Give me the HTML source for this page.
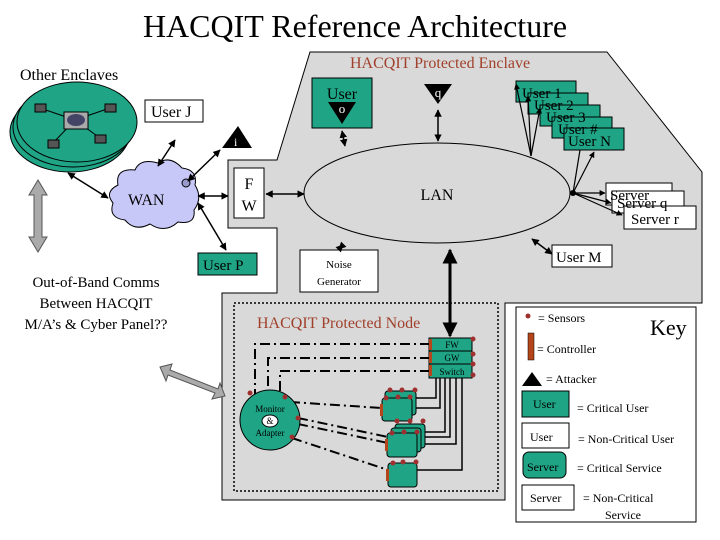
<!DOCTYPE html>
<html><head><meta charset="utf-8"><style>
body{margin:0;background:#fff}
svg{display:block}
text{font-family:"Liberation Serif",serif}
</style></head><body>
<svg width="720" height="540" viewBox="0 0 720 540" xmlns="http://www.w3.org/2000/svg">
<defs>
<marker id="a" viewBox="0 0 10 10" refX="9" refY="5" markerWidth="5" markerHeight="5" orient="auto-start-reverse"><path d="M0,0L10,5L0,10z" fill="#000"/></marker>
</defs>
<text x="355" y="37" font-size="32" text-anchor="middle">HACQIT Reference Architecture</text>
<!-- enclave -->
<path d="M310,52 L607,52 L702,172 L702,303 L505,303 L505,500 L222,500 L222,293 L277,293 L277,228 L228,228 L228,160 L277,160 Z" fill="#d9d9d9" stroke="#000" stroke-width="1"/>
<text x="350" y="68" font-size="16" fill="#a0402a">HACQIT Protected Enclave</text>
<text x="20" y="80" font-size="16">Other Enclaves</text>
<!-- enclave disks -->
<ellipse cx="70" cy="132" rx="60" ry="40" fill="#1fa585" stroke="#000"/>
<ellipse cx="73" cy="127" rx="60" ry="40" fill="#1fa585" stroke="#000"/>
<ellipse cx="77" cy="122" rx="60" ry="40" fill="#1fa585" stroke="#000"/>
<g stroke="#000" stroke-width="1"><line x1="75" y1="120" x2="40" y2="108"/><line x1="75" y1="120" x2="110" y2="108"/><line x1="75" y1="120" x2="53" y2="143"/><line x1="75" y1="120" x2="100" y2="138"/></g>
<rect x="64" y="112" width="24" height="17" fill="#aaa" stroke="#000"/><ellipse cx="76" cy="120" rx="9" ry="6" fill="#446"/>
<g fill="#555" stroke="#000"><rect x="35" y="104" width="11" height="8"/><rect x="105" y="104" width="11" height="8"/><rect x="48" y="140" width="11" height="8"/><rect x="95" y="135" width="11" height="8"/></g>
<rect x="145" y="100" width="58" height="22" fill="#fff" stroke="#000"/>
<text x="151" y="117" font-size="16">User J</text>
<!-- WAN cloud -->
<g fill="#c8c8f8" stroke="#000">
<path d="M118,185 Q115,168 135,170 Q140,158 158,163 Q170,155 182,168 Q198,170 195,185 Q203,198 194,210 Q196,225 178,222 Q165,234 150,224 Q135,232 125,220 Q108,218 113,203 Q104,192 118,185 Z"/>
</g>
<text x="128" y="205" font-size="16">WAN</text>
<circle cx="186" cy="183" r="4" fill="#9999cc" stroke="#000"/>
<!-- attacker i -->
<path d="M222,148 L238,126 L252,148 Z" fill="#000"/><text x="234" y="146" font-size="12" fill="#fff">i</text>
<rect x="234" y="168" width="30" height="50" fill="#fff" stroke="#000"/>
<text x="249" y="189" font-size="16" text-anchor="middle">F</text><text x="249" y="211" font-size="16" text-anchor="middle">W</text>
<!-- LAN -->
<ellipse cx="437" cy="193" rx="133" ry="50" fill="#d9d9d9" stroke="#000"/>
<text x="437" y="200" font-size="16" text-anchor="middle">LAN</text>
<!-- User O -->
<rect x="312" y="78" width="60" height="50" fill="#1fa585" stroke="#000"/>
<text x="342" y="99" font-size="16" text-anchor="middle">User</text>
<path d="M328,102 L356,102 L342,124 Z" fill="#000"/><text x="342" y="113" font-size="13" fill="#fff" text-anchor="middle">o</text>
<path d="M424,84 L452,84 L438,104 Z" fill="#000"/><text x="438" y="97" font-size="13" fill="#fff" text-anchor="middle">q</text>
<!-- users 1..N -->
<g fill="#1fa585" stroke="#000">
<rect x="516" y="81" width="60" height="21"/><rect x="528" y="93" width="60" height="21"/><rect x="540" y="105" width="60" height="21"/><rect x="552" y="117" width="60" height="21"/><rect x="564" y="128" width="60" height="22"/>
</g>
<g font-size="15"><text x="522" y="98">User 1</text><text x="534" y="110">User 2</text><text x="546" y="122">User 3</text><text x="558" y="134">User #</text><text x="568" y="146">User N</text></g>
<!-- servers -->
<g fill="#fff" stroke="#000"><rect x="606" y="183" width="66" height="22"/><rect x="612" y="191" width="72" height="22"/><rect x="624" y="206" width="72" height="23"/></g>
<g font-size="15"><text x="610" y="200">Server</text><text x="617" y="208">Server q</text><text x="631" y="224">Server r</text></g>
<rect x="552" y="245" width="60" height="22" fill="#fff" stroke="#000"/><text x="556" y="262" font-size="15">User M</text>
<rect x="198" y="253" width="59" height="22" fill="#1fa585" stroke="#000"/><text x="203" y="270" font-size="15">User P</text>
<rect x="300" y="250" width="78" height="42" fill="#fff" stroke="#000"/>
<text x="339" y="268" font-size="11" text-anchor="middle">Noise</text><text x="339" y="285" font-size="11" text-anchor="middle">Generator</text>
<!-- connectors -->
<g stroke="#000" stroke-width="1.5" fill="none" marker-start="url(#a)" marker-end="url(#a)">
<line x1="68" y1="173" x2="108" y2="198"/>
<line x1="158" y1="166" x2="175" y2="140"/>
<line x1="188" y1="181" x2="220" y2="150"/>
<line x1="198" y1="196" x2="228" y2="196"/>
<line x1="198" y1="203" x2="226" y2="250"/>
<line x1="266" y1="194" x2="304" y2="194"/>
<line x1="342" y1="131" x2="345" y2="146"/>
<line x1="438" y1="110" x2="438" y2="141"/>
<line x1="532" y1="239" x2="552" y2="254"/>
<line x1="343" y1="245" x2="339" y2="249"/>
</g>
<g stroke="#000" stroke-width="1.2" marker-end="url(#a)">
<line x1="531" y1="156" x2="516" y2="84"/><line x1="531" y1="156" x2="528" y2="96"/><line x1="531" y1="156" x2="540" y2="108"/>
<line x1="573" y1="193" x2="594" y2="152"/><line x1="573" y1="193" x2="605" y2="193"/><line x1="573" y1="193" x2="611" y2="203"/><line x1="573" y1="193" x2="622" y2="215"/>
</g>
<line x1="573" y1="193" x2="580" y2="150" stroke="#000" stroke-width="1.2"/>
<circle cx="573" cy="193" r="3" fill="#000"/>
<line x1="450" y1="250" x2="450" y2="336" stroke="#000" stroke-width="3" marker-start="url(#a)" marker-end="url(#a)"/>
<!-- grey arrows -->
<g fill="#aaa" stroke="#555">
<path d="M38,180 L47,195 L42,195 L42,237 L47,237 L38,252 L29,237 L34,237 L34,195 L29,195 Z"/>
<path d="M160,367 L172,364 L170,370 L218,389 L220,383 L225,396 L212,399 L215,393 L168,375 L166,381 Z"/>
</g>
<g font-size="15" text-anchor="middle"><text x="96" y="287">Out-of-Band Comms</text><text x="96" y="308">Between HACQIT</text><text x="96" y="329">M/A’s &amp; Cyber Panel??</text></g>
<!-- protected node -->
<rect x="234" y="303" width="264" height="188" fill="none" stroke="#000" stroke-width="1.5" stroke-dasharray="2,2"/>
<text x="257" y="328" font-size="16" fill="#a0402a">HACQIT Protected Node</text>
<g stroke="#000" stroke-width="2" fill="none" stroke-dasharray="10,4,2,4">
<path d="M430,344 L255,344 L255,403"/><path d="M430,358 L268,358 L268,392"/><path d="M430,371 L280,371 L280,392"/>
<path d="M290,402 L382,408"/><path d="M298,418 L388,437"/><path d="M298,424 L388,443"/><path d="M292,438 L388,470"/>
</g>
<g fill="#1fa585" stroke="#000">
<rect x="429" y="338" width="43" height="13"/><rect x="429" y="351" width="43" height="13"/><rect x="429" y="364" width="43" height="14"/>
</g>
<g font-size="9" text-anchor="middle"><text x="452" y="348">FW</text><text x="452" y="361">GW</text><text x="452" y="375">Switch</text></g>
<g fill="#b5451b"><rect x="429" y="339" width="3" height="11"/><rect x="429" y="352" width="3" height="11"/><rect x="429" y="365" width="3" height="11"/></g>
<g stroke="#000" stroke-width="1.5" fill="none">
<path d="M436,378 L436,398 L416,398"/><path d="M440,378 L440,408 L411,408"/><path d="M445,378 L445,432 L420,432"/><path d="M450,378 L450,437 L420,437"/><path d="M456,378 L456,444 L417,444"/><path d="M462,378 L462,470 L417,470"/>
</g>
<circle cx="270" cy="420" r="30" fill="#1fa585" stroke="#000"/>
<ellipse cx="270" cy="421" rx="8" ry="6" fill="#fff" stroke="#000"/>
<g font-size="9" text-anchor="middle"><text x="270" y="412">Monitor</text><text x="270" y="424">&amp;</text><text x="270" y="436">Adapter</text></g>
<g fill="#1fa585" stroke="#000">
<rect x="385" y="391" width="31" height="24" rx="3"/><rect x="382" y="398" width="30" height="23" rx="3"/>
<rect x="395" y="424" width="30" height="24" rx="3"/><rect x="391" y="428" width="30" height="24" rx="3"/><rect x="387" y="433" width="30" height="24" rx="3"/>
<rect x="388" y="463" width="29" height="24" rx="3"/>
</g>
<g fill="#b5451b"><rect x="380" y="404" width="3" height="12"/><rect x="385" y="439" width="3" height="12"/><rect x="386" y="469" width="3" height="12"/></g>
<g fill="#a03030">
<circle cx="250" cy="393" r="2.5"/><circle cx="285" cy="397" r="2.5"/><circle cx="298" cy="418" r="2.5"/><circle cx="292" cy="437" r="2.5"/>
<circle cx="390" cy="390" r="2.5"/><circle cx="402" cy="390" r="2.5"/><circle cx="415" cy="390" r="2.5"/><circle cx="386" cy="398" r="2.5"/><circle cx="398" cy="397" r="2.5"/><circle cx="410" cy="397" r="2.5"/>
<circle cx="397" cy="421" r="2.5"/><circle cx="410" cy="421" r="2.5"/><circle cx="423" cy="421" r="2.5"/><circle cx="392" cy="433" r="2.5"/><circle cx="404" cy="432" r="2.5"/><circle cx="417" cy="432" r="2.5"/>
<circle cx="393" cy="463" r="2.5"/><circle cx="403" cy="462" r="2.5"/><circle cx="416" cy="462" r="2.5"/>
<circle cx="473" cy="339" r="2.5"/><circle cx="473" cy="354" r="2.5"/><circle cx="473" cy="364" r="2.5"/><circle cx="473" cy="375" r="2.5"/>
</g>
<!-- legend -->
<rect x="516" y="307" width="180" height="215" fill="#fff" stroke="#000"/>
<circle cx="528" cy="316" r="2.5" fill="#a03030"/>
<text x="538" y="322" font-size="12">= Sensors</text>
<text x="650" y="335" font-size="22">Key</text>
<rect x="528" y="333" width="6" height="27" fill="#b5451b" stroke="#000" stroke-width="0.5"/>
<text x="537" y="353" font-size="12">= Controller</text>
<path d="M522,386 L532,372 L542,386 Z" fill="#000"/>
<text x="546" y="383" font-size="12">= Attacker</text>
<rect x="522" y="391" width="47" height="26" fill="#1fa585" stroke="#000"/><text x="533" y="408" font-size="12">User</text>
<text x="577" y="412" font-size="12">= Critical User</text>
<rect x="522" y="423" width="47" height="25" fill="#fff" stroke="#000"/><text x="530" y="441" font-size="12">User</text>
<text x="578" y="443" font-size="12">= Non-Critical User</text>
<rect x="523" y="452" width="43" height="26" rx="6" fill="#1fa585" stroke="#000"/><text x="527" y="471" font-size="12">Server</text>
<text x="577" y="472" font-size="12">= Critical Service</text>
<rect x="522" y="485" width="52" height="25" fill="#fff" stroke="#000"/><text x="530" y="502" font-size="12">Server</text>
<text x="583" y="502" font-size="12">= Non-Critical</text><text x="605" y="519" font-size="12">Service</text>
</svg>
</body></html>
